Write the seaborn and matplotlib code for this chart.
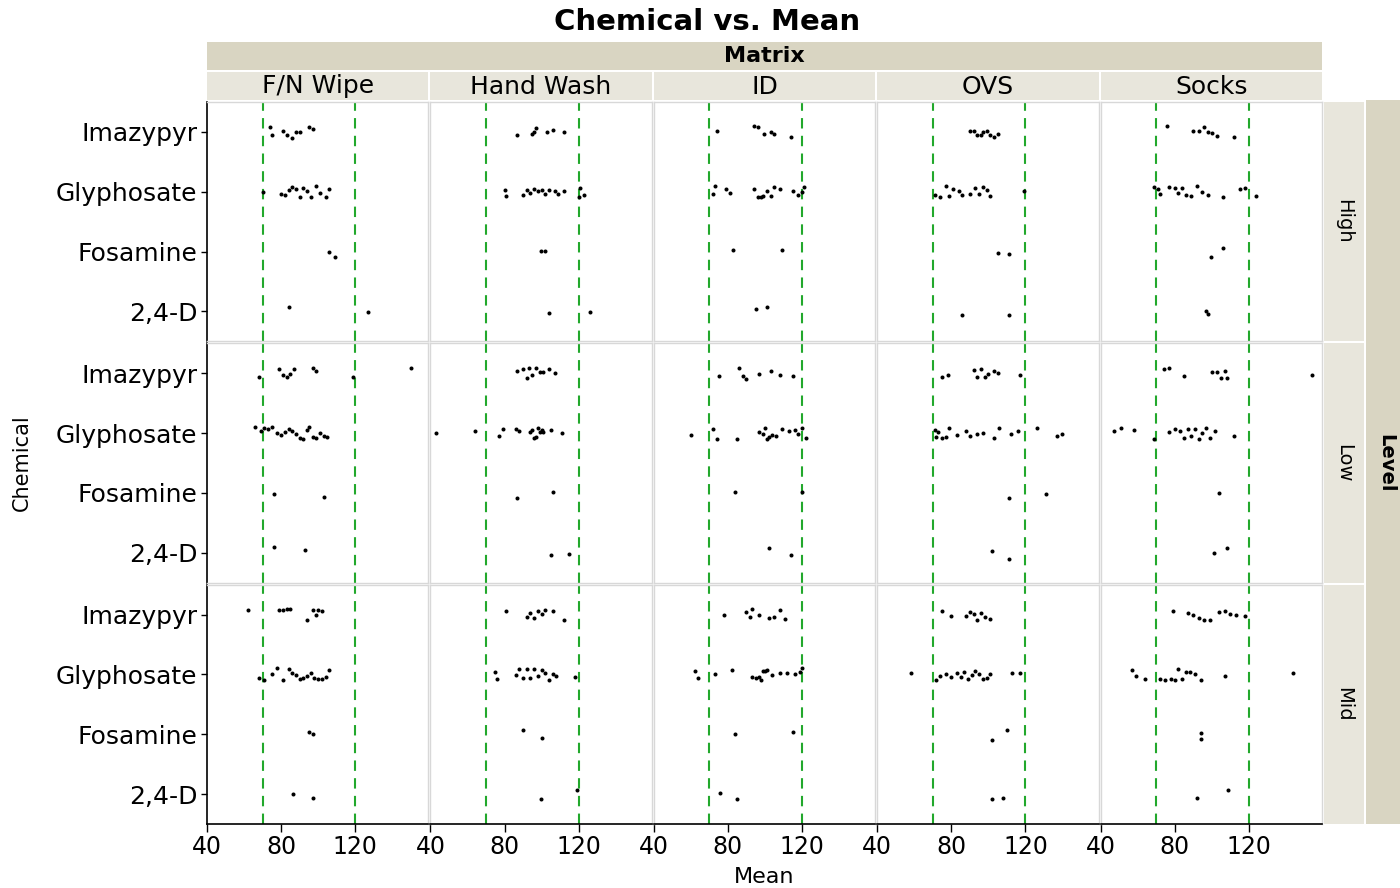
import numpy as np
import pandas as pd
import matplotlib
matplotlib.use("Agg")
import matplotlib.pyplot as plt
from matplotlib.patches import Rectangle
import seaborn as sns

matrices = ["F/N Wipe", "Hand Wash", "ID", "OVS", "Socks"]
levels = ["High", "Low", "Mid"]
chemicals = ["Imazypyr", "Glyphosate", "Fosamine", "2,4-D"]
x_ticks = [40, 80, 120]
limits = [70, 120]

# Mean recoveries, one list per matrix in the order of `matrices`
high_imazypyr = [
    [74, 75, 81, 83, 86, 88, 90, 95, 97],
    [87, 95, 96, 97, 103, 106, 112],
    [74, 94, 96, 99.5, 103, 105, 114],
    [90, 92, 94, 96, 97, 99, 101, 103, 105],
    [76, 90, 93, 96, 98, 100, 103, 112],
]
high_glyphosate = [
    [70, 80, 82, 84, 86, 88, 90, 92, 94, 96, 99, 101, 104, 106],
    [80, 81, 90, 92, 94, 96, 98, 100, 102, 104, 107, 109, 112, 120, 121, 123],
    [72, 73, 79, 81, 94, 96, 98, 99, 101, 103, 105, 108, 115, 118, 120, 121],
    [71, 74, 77, 79, 81, 84, 86, 90, 93, 95, 97, 99, 101, 119],
    [69, 71, 72, 77, 80, 82, 84, 86, 89, 92, 95, 98, 106, 115, 118, 124],
]
high_fosamine = [[106, 109], [99.5, 102], [83, 109], [105, 111], [99.5, 106]]
high_24d = [[84, 127], [104, 126], [95, 101], [86, 111], [97, 98]]

low_imazypyr = [
    [68, 79, 81, 83, 85, 87, 97, 99, 119, 150],
    [87, 90, 92, 93, 95, 97, 99, 101, 104, 107],
    [75, 86, 88, 90, 97, 103, 108, 115],
    [75, 78, 92, 94, 96, 98, 100, 103, 105, 117],
    [74, 77, 85, 100, 103, 105, 107, 108, 154],
]
low_glyphosate = [
    [66, 69, 71, 73, 75, 78, 80, 82, 84, 86, 88, 90, 92, 94, 95, 97, 99, 101, 103, 105],
    [43, 64, 77, 79, 86, 88, 94, 95, 96, 97, 98, 99, 100, 101, 105, 111],
    [60, 72, 74, 85, 97, 99, 100, 101, 102, 104, 106, 109, 113, 116, 118, 120, 122],
    [71, 72, 73, 75, 77, 79, 83, 88, 90, 94, 97, 103, 106, 112, 116, 126, 137, 140],
    [47, 51, 58, 69, 77, 80, 83, 85, 87, 89, 91, 93, 95, 97, 99, 102, 112],
]
low_fosamine = [[76, 103], [87, 106], [84, 120], [111, 131], [104]]
low_24d = [[76, 93], [105, 115], [102, 114], [102, 111], [101, 108]]

mid_imazypyr = [
    [62, 79, 81, 83, 85, 94, 97, 99, 100, 102],
    [81, 92, 94, 96, 98, 100, 102, 106, 112],
    [78, 90, 92, 93, 97, 102, 105, 108, 111],
    [75, 80, 88, 90, 92, 94, 96, 98, 101],
    [79, 87, 90, 93, 96, 99, 104, 107, 110, 113, 118],
]
mid_glyphosate = [
    [68, 71, 75, 78, 81, 84, 86, 88, 90, 92, 94, 96, 98, 100, 102, 104, 106],
    [75, 76, 86, 88, 90, 92, 94, 96, 98, 100, 102, 104, 106, 108, 118],
    [62, 64, 73, 82, 93, 95, 97, 98, 99, 100, 101, 104, 108, 112, 116, 119, 120],
    [58, 72, 74, 77, 80, 83, 85, 87, 89, 91, 93, 95, 97, 99, 101, 113, 117],
    [57, 59, 64, 72, 75, 78, 80, 82, 84, 86, 88, 91, 94, 107, 144],
]
mid_fosamine = [[95, 97], [90, 100], [84, 115], [102, 110], [94, 94]]
mid_24d = [[86.5, 97], [99.5, 119], [76, 85], [102, 108], [92, 109]]

series = {
    "High": [high_imazypyr, high_glyphosate, high_fosamine, high_24d],
    "Low": [low_imazypyr, low_glyphosate, low_fosamine, low_24d],
    "Mid": [mid_imazypyr, mid_glyphosate, mid_fosamine, mid_24d],
}

rows = []
for level in levels:
    for chem, per_matrix in zip(chemicals, series[level]):
        for matrix, values in zip(matrices, per_matrix):
            for v in values:
                rows.append({"Level": level, "Matrix": matrix, "Chemical": chem, "Mean": v})
df = pd.DataFrame(rows)

sns.set_theme(style="white")
plt.rcParams["font.family"] = ["DejaVu Sans"]

W, H = 1400, 888
np.random.seed(7)

g = sns.FacetGrid(df, row="Level", col="Matrix", row_order=levels, col_order=matrices,
                  sharex=True, sharey=True, height=2.4, aspect=0.92, despine=False)
g.map_dataframe(sns.stripplot, x="Mean", y="Chemical", order=chemicals,
                color="black", size=2.9, jitter=0.1, linewidth=0)

fig = g.figure
fig.set_size_inches(W / 100, H / 100)
fig.subplots_adjust(left=207 / W, right=1322 / W, bottom=1 - 824 / H, top=1 - 102 / H,
                    wspace=0.009, hspace=0.008)

panel_edge = "#d8d8d8"
nrows, ncols = g.axes.shape
for i in range(nrows):
    for j in range(ncols):
        ax = g.axes[i, j]
        ax.set_title("")
        ax.set_xlim(40, 159.5)
        ax.set_ylim(3.5, -0.5)
        ax.set_xticks(x_ticks)
        ax.set_xticklabels([str(t) for t in x_ticks])
        for lim in limits:
            ax.axvline(lim, color="#22a82c", lw=1.5, ls=(0, (5, 3.5)), zorder=1)
        for s in ax.spines.values():
            s.set_color(panel_edge)
            s.set_linewidth(1.0)
        if j == 0:
            ax.spines["left"].set_color("black")
            ax.spines["left"].set_linewidth(1.2)
            ax.tick_params(axis="y", length=4, width=1, color="black", labelsize=18,
                           labelcolor="black", pad=3, left=True)
        else:
            ax.tick_params(axis="y", length=0)
        if i == nrows - 1:
            ax.spines["bottom"].set_color("black")
            ax.spines["bottom"].set_linewidth(1.2)
            ax.tick_params(axis="x", length=6, width=1, color="black", labelsize=17,
                           labelcolor="black", pad=2, bottom=True)
        else:
            ax.tick_params(axis="x", length=0)
        ax.set_xlabel("")
        ax.set_ylabel("")


def fx(px):
    return px / W


def fy(py):
    return 1 - py / H


def strip(x0, y0, x1, y1, color):
    fig.add_artist(Rectangle((fx(x0), fy(y1)), fx(x1) - fx(x0), fy(y0) - fy(y1),
                             transform=fig.transFigure, facecolor=color,
                             edgecolor="none", zorder=0))


outer_col = "#d9d5c2"
inner_col = "#e8e6dc"

# outer "Matrix" header
strip(207, 42, 1322, 70, outer_col)
fig.text(fx((207 + 1322) / 2), fy(56), "Matrix", ha="center", va="center",
         fontsize=16, fontweight="bold", color="black")

# column headers
for j, name in enumerate(matrices):
    pos = g.axes[0, j].get_position()
    x0, x1 = pos.x0 * W, pos.x1 * W
    strip(x0, 72, x1, 100, inner_col)
    fig.text(fx((x0 + x1) / 2), fy(86.5), name, ha="center", va="center",
             fontsize=18, color="black")

# row headers
for i, name in enumerate(levels):
    pos = g.axes[i, 0].get_position()
    y_top, y_bot = (1 - pos.y1) * H, (1 - pos.y0) * H
    strip(1324, y_top, 1364, y_bot, inner_col)
    fig.text(fx(1344), fy((y_top + y_bot) / 2), name, ha="center", va="center",
             rotation=-90, fontsize=14, color="black")

# outer "Level" header
strip(1366, 100, 1400, 824, outer_col)
fig.text(fx(1386), fy(463), "Level", ha="center", va="center", rotation=-90,
         fontsize=14, fontweight="bold", color="black")

fig.text(fx(707), fy(22), "Chemical vs. Mean", ha="center", va="center",
         fontsize=21, fontweight="bold", color="black")
fig.text(fx(764), fy(877), "Mean", ha="center", va="center", fontsize=16, color="black")
fig.text(fx(22), fy(463), "Chemical", ha="center", va="center", rotation=90,
         fontsize=15, color="black")

fig.savefig("out.png", dpi=100, facecolor="white")
